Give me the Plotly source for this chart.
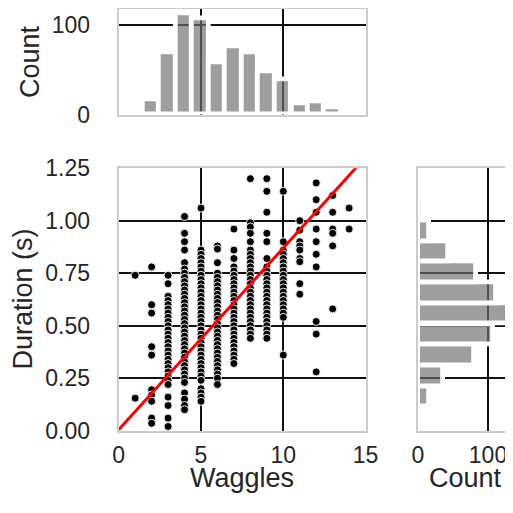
import numpy as np
import plotly.graph_objects as go

# ---------------- data ----------------
waggles = [1, 2, 3, 4, 5, 6, 7, 8, 9, 10, 11, 12, 13, 14]

w1 = [0.74, 0.155]
w2 = [0.78, 0.60, 0.56, 0.40, 0.36, 0.195, 0.17, 0.14, 0.06, 0.035]
w3 = [0.74, 0.70, 0.64, 0.62, 0.60, 0.58, 0.56, 0.54, 0.52, 0.50, 0.48, 0.46, 0.44, 0.42,
      0.40, 0.38, 0.36, 0.34, 0.32, 0.30, 0.28, 0.26, 0.24, 0.22, 0.16, 0.12, 0.06, 0.02]
w4 = [1.02, 0.94, 0.90, 0.86, 0.80, 0.77, 0.75, 0.73, 0.71, 0.69, 0.67, 0.65, 0.63, 0.61,
      0.59, 0.57, 0.55, 0.53, 0.51, 0.49, 0.47, 0.45, 0.43, 0.41, 0.39, 0.37, 0.35, 0.33,
      0.31, 0.29, 0.27, 0.25, 0.23, 0.18, 0.15, 0.12, 0.10]
w5 = [1.06, 0.86, 0.84, 0.82, 0.80, 0.78, 0.76, 0.74, 0.72, 0.70, 0.68, 0.66, 0.64, 0.62,
      0.60, 0.58, 0.56, 0.54, 0.52, 0.50, 0.48, 0.46, 0.44, 0.42, 0.40, 0.38, 0.36, 0.34,
      0.32, 0.30, 0.28, 0.26, 0.24, 0.20, 0.18, 0.16, 0.14]
w6 = [0.88, 0.865, 0.80, 0.75, 0.73, 0.71, 0.69, 0.67, 0.65, 0.63, 0.61, 0.59, 0.57, 0.55,
      0.53, 0.51, 0.49, 0.47, 0.45, 0.43, 0.41, 0.39, 0.37, 0.35, 0.33, 0.31, 0.29, 0.27,
      0.25, 0.22]
w7 = [0.96, 0.86, 0.82, 0.78, 0.76, 0.74, 0.72, 0.70, 0.68, 0.66, 0.64, 0.62, 0.60, 0.58,
      0.56, 0.54, 0.52, 0.50, 0.48, 0.46, 0.44, 0.42, 0.40, 0.38, 0.36, 0.34, 0.32]
w8 = [1.20, 0.99, 0.97, 0.94, 0.90, 0.86, 0.84, 0.82, 0.80, 0.78, 0.76, 0.74, 0.72, 0.70,
      0.68, 0.66, 0.64, 0.62, 0.60, 0.58, 0.56, 0.54, 0.52, 0.50, 0.48, 0.46, 0.44]
w9 = [1.20, 1.14, 1.04, 0.94, 0.90, 0.82, 0.78, 0.76, 0.74, 0.72, 0.70, 0.68, 0.66, 0.64,
      0.62, 0.60, 0.58, 0.56, 0.54, 0.52, 0.50, 0.48, 0.46, 0.44]
w10 = [1.14, 0.90, 0.86, 0.84, 0.82, 0.80, 0.78, 0.76, 0.74, 0.72, 0.70, 0.68, 0.66, 0.64,
       0.62, 0.60, 0.58, 0.56, 0.54, 0.36]
w11 = [1.00, 0.955, 0.90, 0.88, 0.86, 0.82, 0.805, 0.70, 0.65]
w12 = [1.18, 1.10, 1.04, 0.96, 0.90, 0.84, 0.78, 0.52, 0.46, 0.28]
w13 = [1.12, 1.04, 0.96, 0.94, 0.88, 0.58]
w14 = [1.06, 0.96]
duration_columns = [w1, w2, w3, w4, w5, w6, w7, w8, w9, w10, w11, w12, w13, w14]

# regression line
fit_slope = 0.0865
fit_intercept = 0.005

# marginal histograms
waggle_bin_centers = [1.95, 2.95, 3.95, 4.96, 5.96, 6.96, 7.97, 8.97, 9.97, 10.98, 11.98, 12.98]
waggle_bin_width = 1.0
waggle_counts = [17, 70, 113, 108, 59, 76, 70, 49, 39, 13, 15, 8]

duration_bin_centers = [0.065, 0.164, 0.263, 0.361, 0.46, 0.559, 0.658, 0.757, 0.855, 0.954, 1.053]
duration_bin_width = 0.0988
duration_counts = [4, 16, 35, 80, 107, 131, 112, 83, 43, 16, 7]

x_ticks = [0, 5, 10, 15]
y_ticks = [0, 0.25, 0.5, 0.75, 1.0, 1.25]
count_ticks = [0, 100]

# ---------------- figure ----------------
# the page body adds an 8 px margin, so the figure is 505 px and page
# positions are shifted by 8 px
OFF = 8
W = H = 513 - OFF
def px_x(p):
    return (p - OFF) / W
def px_y(p):
    return (513 - p) / H

xs, ys = [], []
for wv, col in zip(waggles, duration_columns):
    xs.extend([wv] * len(col))
    ys.extend(col)

fig = go.Figure()

bar_fill = "rgba(110,110,110,0.67)"
edge = dict(color="white", width=4.8)

fig.add_trace(go.Bar(x=waggle_bin_centers, y=waggle_counts, width=waggle_bin_width,
                     marker=dict(color=bar_fill, line=edge), xaxis="x2", yaxis="y2",
                     showlegend=False, hoverinfo="skip"))
fig.add_trace(go.Bar(y=duration_bin_centers, x=duration_counts, width=duration_bin_width,
                     orientation="h", marker=dict(color=bar_fill, line=edge),
                     xaxis="x3", yaxis="y3", showlegend=False, hoverinfo="skip"))

fig.add_trace(go.Scatter(x=xs, y=ys, mode="markers",
                         marker=dict(color="black", size=8, line=dict(color="white", width=0.9)),
                         showlegend=False, hoverinfo="skip"))

line_x = np.array([x_ticks[0], x_ticks[-1]], dtype=float)
fig.add_trace(go.Scatter(x=line_x, y=fit_intercept + fit_slope * line_x, mode="lines",
                         line=dict(color="#ff0000", width=3), showlegend=False, hoverinfo="skip"))

tick_font = dict(family="Liberation Sans, Arial, sans-serif", size=23, color="#262626")
title_font = dict(family="Liberation Sans, Arial, sans-serif", size=27, color="#262626")
frame = dict(showline=True, linecolor="#cccccc", linewidth=2.2, zeroline=False, ticks="",
             showgrid=True, gridcolor="#111111", gridwidth=2, automargin=False)

main_xd = [px_x(118.7), px_x(365.6)]
main_yd = [px_y(430.7), px_y(168.2)]
top_yd = [px_y(114.5), px_y(9.3)]
right_xd = [px_x(418.0), 1.0]

fig.update_layout(
    width=W, height=H, margin=dict(l=0, r=0, t=0, b=0, pad=0), autosize=False,
    paper_bgcolor="white", plot_bgcolor="white", bargap=0,
    xaxis=dict(domain=main_xd, range=[0, 15], tickvals=x_ticks, anchor="y", mirror=True,
               ticklabelstandoff=3, tickfont=tick_font, **frame),
    yaxis=dict(domain=main_yd, range=[0, 1.25], tickvals=y_ticks, tickformat=".2f", anchor="x",
               mirror=True, ticklabelstandoff=22, tickfont=tick_font, **frame),
    xaxis2=dict(domain=main_xd, matches="x", tickvals=x_ticks, showticklabels=False,
                anchor="y2", mirror=True, **frame),
    yaxis2=dict(domain=top_yd, range=[0, 118], tickvals=count_ticks, anchor="x2", mirror=True,
                ticklabelstandoff=22, tickfont=tick_font, **frame),
    xaxis3=dict(domain=right_xd, range=[0, 135.7], tickvals=count_ticks, anchor="y3", mirror=True,
                ticklabelstandoff=3, tickfont=tick_font, **frame),
    yaxis3=dict(domain=main_yd, matches="y", tickvals=y_ticks, showticklabels=False,
                anchor="x3", mirror=False, **frame),
    annotations=[
        dict(text="Waggles", x=px_x(242), y=px_y(478), xref="paper", yref="paper",
             showarrow=False, font=title_font, xanchor="center", yanchor="middle"),
        dict(text="Count", x=px_x(465.5), y=px_y(478), xref="paper", yref="paper",
             showarrow=False, font=title_font, xanchor="center", yanchor="middle"),
        dict(text="Duration (s)", x=px_x(22), y=px_y(299.5), xref="paper", yref="paper",
             showarrow=False, font=title_font, textangle=-90, xanchor="center", yanchor="middle"),
        dict(text="Count", x=px_x(30), y=px_y(62), xref="paper", yref="paper",
             showarrow=False, font=title_font, textangle=-90, xanchor="center", yanchor="middle"),
    ],
)

fig.write_html("out.html")
